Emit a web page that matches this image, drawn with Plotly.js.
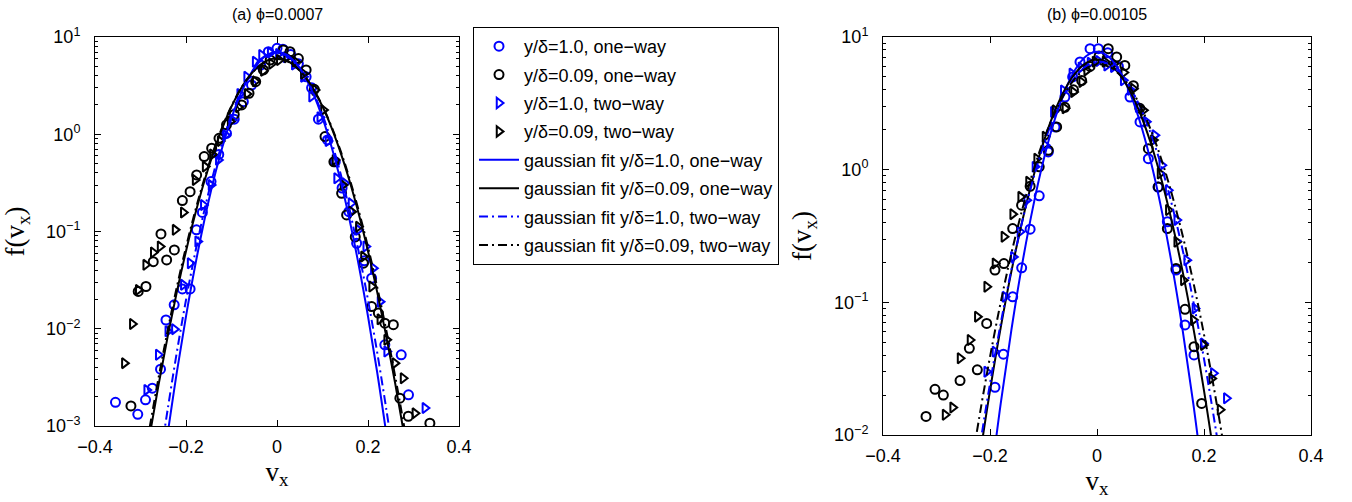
<!DOCTYPE html>
<html>
<head>
<meta charset="utf-8">
<script src="https://cdn.plot.ly/plotly-3.0.1.min.js"></script>
<style>html,body{margin:0;padding:0;background:#fff;}#chart{width:1352px;height:502px;}</style>
</head>
<body>
<div id="chart"></div>
<script>
// ---------- panel (a) phi = 0.0007 : measured PDFs ----------
const aBlueOneX = [-0.355,-0.306,-0.289,-0.274,-0.256,-0.244,-0.226,-0.208,-0.191,-0.177,-0.164,-0.145,-0.128,-0.111,-0.094,-0.074,-0.056,-0.036,-0.019,0.000,0.013,0.030,0.047,0.064,0.076,0.091,0.111,0.128,0.143,0.158,0.175,0.192,0.208,0.237,0.273,0.289];
const aBlueOneY = [0.00175,0.00132,0.00186,0.00245,0.00384,0.0123,0.0176,0.0257,0.0257,0.104,0.157,0.326,0.62,1.02,1.43,2.16,3.21,5.15,7.07,7.65,7.5,6.6,5.3,3.9,3.0,1.43,0.874,0.52,0.28,0.16,0.0757,0.05,0.0331,0.00684,0.0054,0.00209];

const aBlackOneX = [-0.321,-0.305,-0.288,-0.272,-0.255,-0.2425,-0.2256,-0.208,-0.191,-0.1766,-0.160,-0.1436,-0.1275,-0.111,-0.094,-0.0777,-0.0615,-0.0469,-0.030,-0.015,0.014,0.0286,0.047,0.064,0.082,0.1055,0.125,0.142,0.153,0.172,0.190,0.208,0.2227,0.237,0.2557,0.270,0.2886,0.336];
const aBlackOneY = [0.00161,0.0242,0.0272,0.049,0.0944,0.051,0.0647,0.208,0.257,0.382,0.589,0.718,0.909,1.25,1.6,2.0,2.64,3.47,4.58,5.8,7.35,7.06,6.0,4.58,2.9,0.946,0.52,0.247,0.148,0.088,0.0472,0.0169,0.0145,0.0114,0.011,0.00193,0.00126,0.00107];

const aBlueTwoX = [-0.2864,-0.261,-0.240,-0.2256,-0.2059,-0.191,-0.1744,-0.162,-0.145,-0.129,-0.113,-0.098,-0.082,-0.0667,-0.048,-0.034,-0.015,0.003,0.020,0.038,0.058,0.076,0.094,0.112,0.131,0.149,0.1626,0.179,0.195,0.2117,0.2264,0.241,0.325];
const aBlueTwoY = [0.00235,0.0054,0.0094,0.0099,0.0283,0.0472,0.0789,0.1876,0.301,0.545,0.98,1.40,2.6,3.91,5.57,6.53,6.9,6.7,6.2,5.2,3.9,2.44,1.5,0.85,0.353,0.313,0.195,0.104,0.07,0.042,0.019,0.00583,0.00153];

const aBlackTwoX = [-0.3355,-0.318,-0.305,-0.2886,-0.272,-0.257,-0.224,-0.206,-0.180,-0.158,-0.142,-0.125,-0.103,-0.085,-0.066,-0.048,-0.030,-0.012,0.005,0.022,0.040,0.058,0.0835,0.102,0.1275,0.145,0.164,0.1788,0.190,0.208,0.226,0.241,0.259,0.277,0.303];
const aBlackTwoY = [0.00443,0.0112,0.0251,0.0454,0.0608,0.07,0.104,0.157,0.339,0.465,0.62,0.85,1.35,1.9,2.6,3.5,4.5,5.3,5.8,6.2,5.6,4.2,2.85,1.78,0.545,0.3,0.16,0.112,0.0552,0.0272,0.0125,0.00769,0.00443,0.0031,0.00135];

// ---------- panel (a) gaussian fits ----------
const aFitBlueOneX = [-0.24,-0.22,-0.20,-0.18,-0.16,-0.14,-0.12,-0.10,-0.08,-0.06,-0.04,-0.02,0,0.02,0.04,0.06,0.08,0.10,0.12,0.14,0.16,0.18,0.20,0.22,0.24];
const aFitBlueOneY = [0.00085,0.00361,0.01343,0.0442,0.1282,0.328,0.74,1.474,2.591,4.017,5.495,6.63,7.06,6.63,5.495,4.017,2.591,1.474,0.74,0.328,0.1282,0.0442,0.01343,0.00361,0.00085];

const aFitBlackOneX = [-0.28,-0.26,-0.24,-0.22,-0.20,-0.18,-0.16,-0.14,-0.12,-0.10,-0.08,-0.06,-0.04,-0.02,0,0.02,0.04,0.06,0.08,0.10,0.12,0.14,0.16,0.18,0.20,0.22,0.24,0.26,0.28];
const aFitBlackOneY = [0.00079,0.0027,0.00844,0.0241,0.0628,0.1496,0.325,0.644,1.166,1.927,2.905,4.0,5.02,5.76,6.03,5.76,5.02,4.0,2.905,1.927,1.166,0.644,0.325,0.1496,0.0628,0.0241,0.00844,0.0027,0.00079];

const aFitBlueTwoX = [-0.25,-0.24,-0.22,-0.20,-0.18,-0.16,-0.14,-0.12,-0.10,-0.08,-0.06,-0.04,-0.02,0,0.02,0.04,0.06,0.08,0.10,0.12,0.14,0.16,0.18,0.20,0.22,0.24,0.25];
const aFitBlueTwoY = [0.00074,0.00151,0.00579,0.01977,0.06,0.162,0.389,0.832,1.582,2.677,4.03,5.40,6.43,6.82,6.43,5.40,4.03,2.677,1.582,0.832,0.389,0.162,0.06,0.01977,0.00579,0.00151,0.00074];

const aFitBlackTwoX = [-0.28,-0.26,-0.24,-0.22,-0.20,-0.18,-0.16,-0.14,-0.12,-0.10,-0.08,-0.06,-0.04,-0.02,0,0.02,0.04,0.06,0.08,0.10,0.12,0.14,0.16,0.18,0.20,0.22,0.24,0.26,0.28];
const aFitBlackTwoY = [0.00096,0.00319,0.00974,0.0271,0.0691,0.161,0.344,0.671,1.197,1.953,2.917,3.985,4.98,5.69,5.95,5.69,4.98,3.985,2.917,1.953,1.197,0.671,0.344,0.161,0.0691,0.0271,0.00974,0.00319,0.00096];

// ---------- panel (b) phi = 0.00105 : measured PDFs ----------
const bBlueOneX = [-0.1907,-0.175,-0.1576,-0.1408,-0.125,-0.108,-0.091,-0.0785,-0.060,-0.0455,-0.0318,-0.013,0.0025,0.020,0.040,0.0617,0.0804,0.096,0.114,0.1315,0.1477,0.1645,0.1813];
const bBlueOneY = [0.0229,0.0407,0.110,0.182,0.356,0.635,1.36,2.1,3.53,5.0,6.49,8.17,8.17,7.6,6.0,3.53,2.29,1.21,0.74,0.405,0.175,0.0675,0.0401];

const bBlackOneX = [-0.3196,-0.3028,-0.2872,-0.256,-0.2386,-0.2237,-0.2062,-0.1907,-0.174,-0.1576,-0.141,-0.125,-0.108,-0.091,-0.0754,-0.060,-0.044,-0.0287,-0.013,0.004,0.021,0.0368,0.052,0.068,0.080,0.096,0.1146,0.1315,0.1477,0.1645,0.1813,0.1956];
const bBlackOneY = [0.0138,0.0221,0.020,0.0257,0.045,0.031,0.0693,0.175,0.196,0.36,0.54,0.75,1.05,1.4,2.1,2.95,4.0,4.7,6.0,7.2,8.17,7.07,6.1,4.3,2.9,1.44,0.741,0.36,0.18,0.0885,0.0463,0.0173];

const bBlueTwoX = [-0.2062,-0.1907,-0.172,-0.1564,-0.144,-0.1315,-0.116,-0.097,-0.0816,-0.063,-0.047,-0.030,-0.013,0.003,0.018,0.0305,0.049,0.062,0.077,0.092,0.108,0.121,0.133,0.149,0.1676,0.183,0.1988,0.2174,0.2417];
const bBlueTwoY = [0.030,0.0425,0.110,0.22,0.34,0.589,1.05,1.53,2.72,3.96,5.3,5.9,6.4,6.6,6.1,5.94,4.72,4.0,2.97,2.3,1.82,1.08,0.7,0.417,0.208,0.09,0.049,0.0292,0.0189];

const bBlackTwoX = [-0.284,-0.2698,-0.256,-0.2374,-0.2237,-0.2062,-0.1907,-0.174,-0.1576,-0.1427,-0.128,-0.1128,-0.0972,-0.0785,-0.060,-0.044,-0.0287,-0.0193,-0.0037,0.015,0.032,0.050,0.0679,0.0866,0.1053,0.1178,0.1333,0.149,0.1614,0.180,0.1988,0.2143,0.230];
const bBlackTwoY = [0.0142,0.0161,0.0379,0.052,0.078,0.131,0.196,0.312,0.462,0.624,0.81,1.21,1.77,2.8,2.9,3.85,4.58,5.6,6.5,6.5,6.3,5.4,4.08,2.8,1.67,0.935,0.496,0.286,0.147,0.0735,0.0476,0.0267,0.0155];

// ---------- panel (b) gaussian fits ----------
const bFitBlueOneX = [-0.20,-0.18,-0.16,-0.14,-0.12,-0.10,-0.08,-0.06,-0.04,-0.02,0,0.02,0.04,0.06,0.08,0.10,0.12,0.14,0.16,0.18,0.20];
const bFitBlueOneY = [0.0041,0.01725,0.0621,0.1925,0.5134,1.177,2.319,3.932,5.733,7.19,7.75,7.19,5.733,3.932,2.319,1.177,0.5134,0.1925,0.0621,0.01725,0.0041];

const bFitBlackOneX = [-0.22,-0.20,-0.18,-0.16,-0.14,-0.12,-0.10,-0.08,-0.06,-0.04,-0.02,0,0.02,0.04,0.06,0.08,0.10,0.12,0.14,0.16,0.18,0.20,0.22];
const bFitBlackOneY = [0.00647,0.0216,0.0644,0.171,0.405,0.855,1.608,2.697,4.03,5.37,6.38,6.76,6.38,5.37,4.03,2.697,1.608,0.855,0.405,0.171,0.0644,0.0216,0.00647];

const bFitBlueTwoX = [-0.236,-0.216,-0.196,-0.176,-0.156,-0.136,-0.116,-0.096,-0.076,-0.056,-0.036,-0.016,0.004,0.024,0.044,0.064,0.084,0.104,0.124,0.144,0.164,0.184,0.204,0.224,0.244];
const bFitBlueTwoY = [0.00284,0.0098,0.0303,0.0841,0.21,0.4696,0.9445,1.706,2.767,4.03,5.275,6.2,6.54,6.2,5.275,4.03,2.767,1.706,0.9445,0.4696,0.21,0.0841,0.0303,0.0098,0.00284];

const bFitBlackTwoX = [-0.236,-0.216,-0.196,-0.176,-0.156,-0.136,-0.116,-0.096,-0.076,-0.056,-0.036,-0.016,0.004,0.024,0.044,0.064,0.084,0.104,0.124,0.144,0.164,0.184,0.204,0.224,0.244];
const bFitBlackTwoY = [0.0055,0.01694,0.0472,0.1194,0.274,0.569,1.075,1.838,2.852,4.015,5.126,5.934,6.23,5.934,5.126,4.015,2.852,1.838,1.075,0.569,0.274,0.1194,0.0472,0.01694,0.0055];

// ---------- labels ----------
const seriesNames = [
  'y/δ=1.0, one−way',
  'y/δ=0.09, one−way',
  'y/δ=1.0, two−way',
  'y/δ=0.09, two−way',
  'gaussian fit y/δ=1.0, one−way',
  'gaussian fit y/δ=0.09, one−way',
  'gaussian fit y/δ=1.0, two−way',
  'gaussian fit y/δ=0.09, two−way'
];
const panelTitles = ['(a) ϕ=0.0007', '(b) ϕ=0.00105'];
const xTickVals = [-0.4,-0.2,0,0.2,0.4];
const xTickText = ['−0.4','−0.2','0','0.2','0.4'];
const yTickVals = [0.001,0.01,0.1,1,10];
const yTickText = ['10<sup>−3</sup>','10<sup>−2</sup>','10<sup>−1</sup>','10<sup>0</sup>','10<sup>1</sup>'];

// ---------- build traces ----------
const BLUE = '#0000ff', BLACK = '#000000';
const DASHDOT = '9px,4px,2px,4px';
function marks(x, y, color, symbol, idx, ax, showLeg) {
  return {x: x, y: y, type: 'scatter', mode: 'markers', name: seriesNames[idx],
    legendgroup: 'g' + idx, showlegend: showLeg, xaxis: ax[0], yaxis: ax[1],
    marker: {symbol: symbol, size: 9, color: color, line: {color: color, width: 2}}};
}
function fit(x, y, color, dash, idx, ax, showLeg) {
  return {x: x, y: y, type: 'scatter', mode: 'lines', name: seriesNames[idx],
    legendgroup: 'g' + idx, showlegend: showLeg, xaxis: ax[0], yaxis: ax[1],
    line: {color: color, width: 2, dash: dash, shape: 'spline', smoothing: 1}};
}
const A = ['x', 'y'], B = ['x2', 'y2'];
const traces = [
  fit(aFitBlueOneX, aFitBlueOneY, BLUE, 'solid', 4, A, true),
  fit(aFitBlackOneX, aFitBlackOneY, BLACK, 'solid', 5, A, true),
  fit(aFitBlueTwoX, aFitBlueTwoY, BLUE, DASHDOT, 6, A, true),
  fit(aFitBlackTwoX, aFitBlackTwoY, BLACK, DASHDOT, 7, A, true),
  marks(aBlueOneX, aBlueOneY, BLUE, 'circle-open', 0, A, true),
  marks(aBlackOneX, aBlackOneY, BLACK, 'circle-open', 1, A, true),
  marks(aBlueTwoX, aBlueTwoY, BLUE, 'triangle-right-open', 2, A, true),
  marks(aBlackTwoX, aBlackTwoY, BLACK, 'triangle-right-open', 3, A, true),
  fit(bFitBlueOneX, bFitBlueOneY, BLUE, 'solid', 4, B, false),
  fit(bFitBlackOneX, bFitBlackOneY, BLACK, 'solid', 5, B, false),
  fit(bFitBlueTwoX, bFitBlueTwoY, BLUE, DASHDOT, 6, B, false),
  fit(bFitBlackTwoX, bFitBlackTwoY, BLACK, DASHDOT, 7, B, false),
  marks(bBlueOneX, bBlueOneY, BLUE, 'circle-open', 0, B, false),
  marks(bBlackOneX, bBlackOneY, BLACK, 'circle-open', 1, B, false),
  marks(bBlueTwoX, bBlueTwoY, BLUE, 'triangle-right-open', 2, B, false),
  marks(bBlackTwoX, bBlackTwoY, BLACK, 'triangle-right-open', 3, B, false)
];

const SANS = 'Liberation Sans, Arial, Helvetica, sans-serif';
const SERIF = 'Liberation Serif, Times New Roman, serif';
function xAxis(domain, anchor) {
  return {domain: domain, anchor: anchor, range: [-0.4, 0.4], tickmode: 'array',
    tickvals: xTickVals, ticktext: xTickText, ticks: 'inside', ticklen: 6,
    tickcolor: '#000', showline: true, linecolor: '#000', linewidth: 1, mirror: 'ticks',
    showgrid: false, zeroline: false, ticklabelstandoff: 4,
    tickfont: {family: SANS, size: 18, color: '#000'},
    title: {text: 'v<sub>x</sub>', font: {family: SERIF, size: 27, color: '#000'}, standoff: 0}};
}
function yAxis(domain, anchor, range) {
  return {domain: domain, anchor: anchor, type: 'log', range: range, tickmode: 'array',
    tickvals: yTickVals, ticktext: yTickText, ticks: 'inside', ticklen: 6,
    tickcolor: '#000', showline: true, linecolor: '#000', linewidth: 1, mirror: 'ticks',
    showgrid: false, zeroline: false, ticklabelstandoff: 10,
    minor: {dtick: 'D1', ticks: 'inside', ticklen: 3, tickcolor: '#000', showgrid: false},
    tickfont: {family: SANS, size: 18, color: '#000'},
    title: {text: 'f(v<sub>x</sub>)', font: {family: SERIF, size: 27, color: '#000'}, standoff: 14}};
}

const layout = {
  width: 1352, height: 502,
  margin: {l: 0, r: 0, t: 0, b: 0},
  paper_bgcolor: '#fff', plot_bgcolor: '#fff',
  showlegend: true,
  xaxis: xAxis([95/1352, 459/1352], 'y'),
  yaxis: yAxis([76/502, 465/502], 'x', [-3, 1]),
  xaxis2: xAxis([883/1352, 1311/1352], 'y2'),
  yaxis2: yAxis([67/502, 465/502], 'x2', [-2, 1]),
  legend: {x: 473/1352, y: 1 - 27/502, xanchor: 'left', yanchor: 'top',
    bgcolor: '#fff', bordercolor: '#000', borderwidth: 1,
    font: {family: SANS, size: 18, color: '#000'},
    itemwidth: 40, traceorder: 'grouped', tracegroupgap: 2},
  annotations: [
    {text: panelTitles[0], xref: 'paper', yref: 'paper', x: 277/1352, y: 1 - 15/502,
     showarrow: false, xanchor: 'center', yanchor: 'middle', font: {family: SANS, size: 16, color: '#000'}},
    {text: panelTitles[1], xref: 'paper', yref: 'paper', x: 1097/1352, y: 1 - 15/502,
     showarrow: false, xanchor: 'center', yanchor: 'middle', font: {family: SANS, size: 16, color: '#000'}}
  ]
};

// legend order: markers first, then fits
const order = [4,5,6,7,0,1,2,3,12,13,14,15,8,9,10,11];
const ordered = order.map(i => traces[i]);
Plotly.newPlot('chart', ordered, layout, {displayModeBar: false, staticPlot: true});
</script>
</body>
</html>
